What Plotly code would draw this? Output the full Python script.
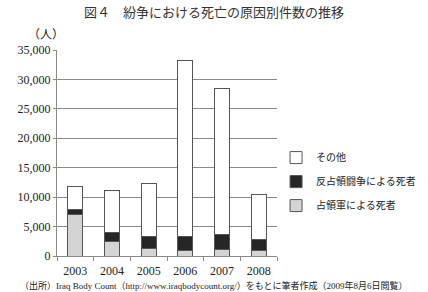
import plotly.graph_objects as go

years = ["2003", "2004", "2005", "2006", "2007", "2008"]
occupation = [7000, 2450, 1250, 900, 1050, 900]
anti_occupation = [900, 1600, 2100, 2350, 2550, 1950]
other = [3950, 7050, 9000, 29950, 24800, 7600]

FONT = "Liberation Serif, Noto Sans CJK JP, serif"
line = dict(color="#555555", width=1)

fig = go.Figure()
fig.add_trace(go.Bar(name="占領軍による死者", x=years, y=occupation, legendgroup="a", legendrank=3,
                     marker=dict(color="#d4d4d4", line=line), width=0.41))
fig.add_trace(go.Bar(name="反占領闘争による死者", x=years, y=anti_occupation, legendgroup="b", legendrank=2,
                     marker=dict(color="#262626", line=line), width=0.41))
fig.add_trace(go.Bar(name="その他", x=years, y=other, legendgroup="c", legendrank=1,
                     marker=dict(color="#ffffff", line=line), width=0.41))

fig.update_layout(
    barmode="stack",
    width=428, height=292,
    margin=dict(l=57, r=151, t=50, b=36, autoexpand=False),
    paper_bgcolor="white", plot_bgcolor="white",
    font=dict(family=FONT, size=12, color="#222222"),
    showlegend=True,
    legend=dict(traceorder="grouped", xref="container", yref="container",
                x=0.645, xanchor="left", y=0.51, yanchor="top",
                font=dict(size=10), itemwidth=30, tracegroupgap=5,
                bgcolor="rgba(0,0,0,0)"),
    title=dict(text="図４　紛争における死亡の原因別件数の推移", x=0.5, xanchor="center",
               xref="container", y=0.958, yanchor="middle", font=dict(size=13, color="#333333")),
)
fig.update_yaxes(range=[0, 35000], tickvals=[0, 5000, 10000, 15000, 20000, 25000, 30000, 35000],
                 tickformat=",d", showgrid=True, gridcolor="#8a8a8a", gridwidth=1,
                 showline=True, linecolor="#8a8a8a", ticks="outside", ticklen=3,
                 tickcolor="#8a8a8a", zeroline=False, tickfont=dict(size=12))
fig.update_xaxes(showline=True, linecolor="#8a8a8a", ticks="outside", tickson="boundaries",
                 ticklen=4, tickcolor="#8a8a8a", tickangle=0, tickfont=dict(size=12),
                 ticklabelstandoff=4)

fig.add_annotation(text="（人）", xref="paper", yref="paper", x=-0.14, y=1.073,
                   xanchor="left", yanchor="middle", showarrow=False, font=dict(size=12))
fig.add_annotation(text="（出所）Iraq Body Count（http://www.iraqbodycount.org/）をもとに筆者作成（2009年8月6日閲覧）",
                   xref="paper", yref="paper", x=0.714, y=-0.141, xanchor="center", yanchor="middle",
                   showarrow=False, font=dict(size=9))

fig.write_html("out.html")
